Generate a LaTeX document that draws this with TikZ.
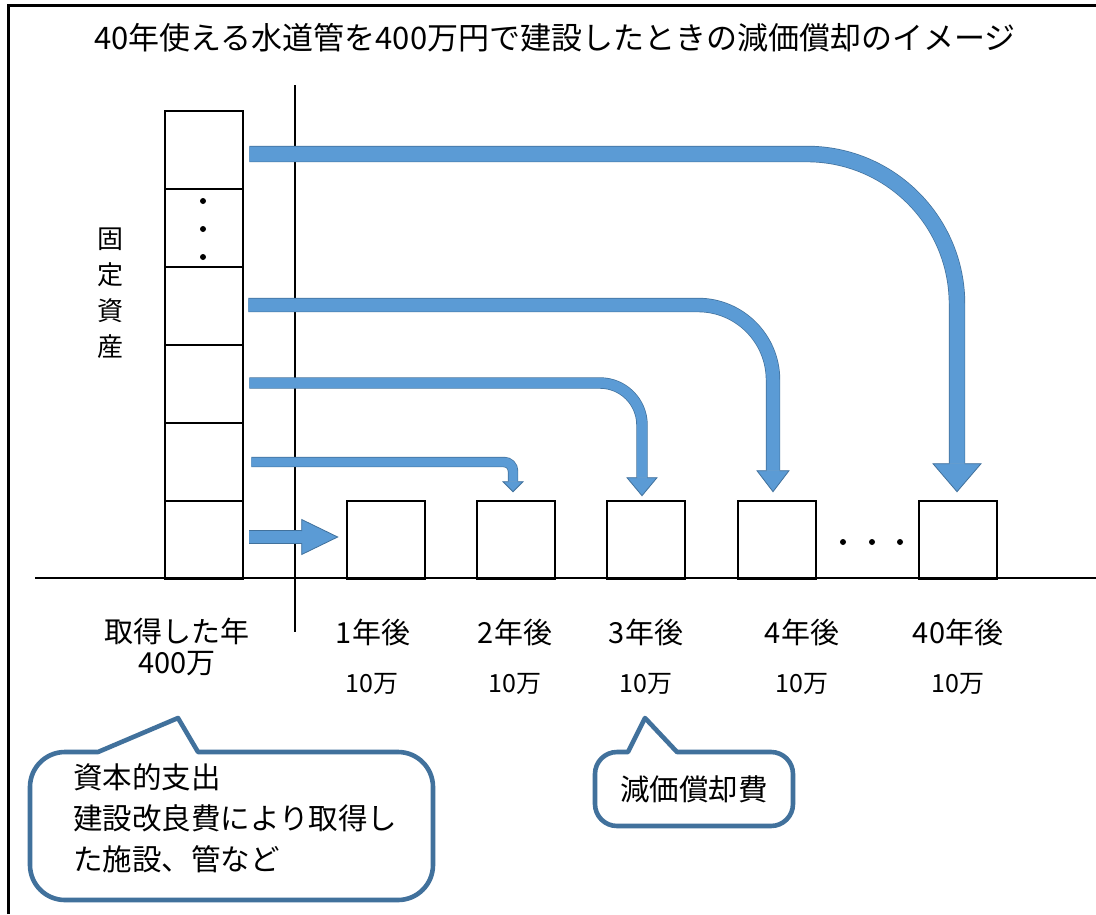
\documentclass[tikz,border=0pt]{standalone}
\usepackage{fontspec}
\setmainfont{Noto Sans CJK JP}
\usetikzlibrary{calc}
\definecolor{afill}{HTML}{5B9BD5}
\definecolor{aline}{HTML}{41719C}
\definecolor{cline}{HTML}{41719C}
\newcommand\headdown[4]{%
  \fill[afill] ($(#1)+(-#2,0)$) -- ($(#1)+(0,#3)$) -- ($(#1)+(#2,0)$) -- cycle;
  \draw[aline, line width=0.8pt, line join=miter] ($(#1)+(-#4,0)$) -- ($(#1)+(-#2,0)$) -- ($(#1)+(0,#3)$) -- ($(#1)+(#2,0)$) -- ($(#1)+(#4,0)$);
}
\newcommand\headright[4]{%
  \fill[afill] ($(#1)+(0,-#2)$) -- ($(#1)+(#3,0)$) -- ($(#1)+(0,#2)$) -- cycle;
  \draw[aline, line width=0.8pt, line join=miter] ($(#1)+(0,-#4)$) -- ($(#1)+(0,-#2)$) -- ($(#1)+(#3,0)$) -- ($(#1)+(0,#2)$) -- ($(#1)+(0,#4)$);
}
\begin{document}
\begin{tikzpicture}[x=1pt,y=-1pt,
  blk/.style={draw=black, line width=2.6pt, minimum width=78pt, minimum height=78pt, inner sep=0pt},
  lbl/.style={font=\fontsize{29}{31}\selectfont, inner sep=0pt, align=center},
  amt/.style={font=\fontsize{25}{26}\selectfont, inner sep=0pt},
  ctext/.style={font=\fontsize{29.5}{41}\selectfont, inner sep=0pt, align=left},
  callout/.style={draw=cline, line width=4.6pt, fill=white, line join=round},
  shaft/.style={draw=afill, line width=#1, preaction={draw=aline, line width=#1+1.4pt}},
  rule/.style={draw=black, line width=2.5pt},
]
\useasboundingbox (0,0) rectangle (1096,914);
\fill[white] (0,0) rectangle (1096,914);
% frame
\draw[line width=3pt] (8,914) -- (8,5) -- (1096,5);
% title
\node[font=\fontsize{31}{32}\selectfont, inner sep=0pt] (title) at (555,38) {40年使える水道管を400万円で建設したときの減価償却のイメージ};
% axes
\coordinate (axL) at (35,578);
\coordinate (axR) at (1096,578);
\coordinate (vT) at (295,85);
\coordinate (vB) at (295,632);
\draw[rule] (axL) -- (axR);
\draw[draw=black, line width=2.2pt] (vT) -- (vB);
% stack of fixed assets
\node[blk] (s1) at (204,150) {};
\node[blk] (s2) at (204,228) {};
\node[blk] (s3) at (204,306) {};
\node[blk] (s4) at (204,384) {};
\node[blk] (s5) at (204,462) {};
\node[blk] (s6) at (204,540) {};
\fill (203,201) circle[radius=3pt] (203,229) circle[radius=3pt] (203,257) circle[radius=3pt];
% yearly boxes
\node[blk] (b1) at (386,540) {};
\node[blk] (b2) at (516,540) {};
\node[blk] (b3) at (646,540) {};
\node[blk] (b4) at (777,540) {};
\node[blk] (b5) at (958,540) {};
\fill (843,542) circle[radius=3pt] (872,542) circle[radius=3pt] (900,542) circle[radius=3pt];
% labels
\node[font=\fontsize{26}{36}\selectfont, inner sep=0pt, align=center] (kotei) at (110,293) {固\\定\\資\\産};
\node[lbl] (y0) at (177,647) {取得した年\\400万};
\node[lbl] (y1) at (373,632) {1年後};
\node[lbl] (y2) at (515,632) {2年後};
\node[lbl] (y3) at (646,632) {3年後};
\node[lbl] (y4) at (802,632) {4年後};
\node[lbl] (y40) at (958,632) {40年後};
\node[amt] (m1) at (372,684) {10万};
\node[amt] (m2) at (515,684) {10万};
\node[amt] (m3) at (646,684) {10万};
\node[amt] (m4) at (802,684) {10万};
\node[amt] (m40) at (958,684) {10万};
% arrow 1 (straight)
\coordinate (a1s) at ($(s6.east)+(5,-3)$);
\coordinate (a1b) at ($(b1.west)+(-44,-3)$);
\draw[shaft=12pt] (a1s) -- (a1b);
\headright{a1b}{17.5}{36}{6}
% arrow 2
\coordinate (a2s) at ($(s5.east)+(7,0)$);
\coordinate (a2b) at ($(b2.north)+(-3,-18)$);
\draw[shaft=9pt, rounded corners=9pt] (a2s) -| (a2b);
\headdown{a2b}{10}{10}{4.5}
% arrow 3
\coordinate (a3s) at ($(s4.east)+(5,-1)$);
\coordinate (a3b) at ($(b3.north)+(-4,-22)$);
\draw[shaft=10pt, rounded corners=42pt] (a3s) -| (a3b);
\headdown{a3b}{15}{18}{5}
% arrow 4
\coordinate (a4s) at ($(s3.east)+(4,-1)$);
\coordinate (a4b) at ($(b4.north)+(-4,-29)$);
\draw[shaft=13pt, rounded corners=75pt] (a4s) -| (a4b);
\headdown{a4b}{16}{21}{6.5}
% arrow 5
\coordinate (a5s) at ($(s1.east)+(5,4)$);
\coordinate (a5b) at ($(b5.north)+(-1,-36)$);
\draw[shaft=15pt, rounded corners=150pt] (a5s) -| (a5b);
\headdown{a5b}{24}{28}{7.5}
% callout 1
\draw[callout] (198,752) [rounded corners=35pt] -- (433,752) -- (433,900) -- (30,900) -- (30,752) [sharp corners] -- (98,752) -- (178,718) -- cycle;
\node[ctext, anchor=west] (c1) at (73,818) {資本的支出\\建設改良費により取得し\\た施設、管など};
% callout 2
\draw[callout] (677,752) [rounded corners=22pt] -- (793,752) -- (793,826) -- (595,826) -- (595,752) [sharp corners] -- (628,752) -- (645,718) -- cycle;
\node[ctext] (c2) at (694,789) {減価償却費};
\end{tikzpicture}
\end{document}
